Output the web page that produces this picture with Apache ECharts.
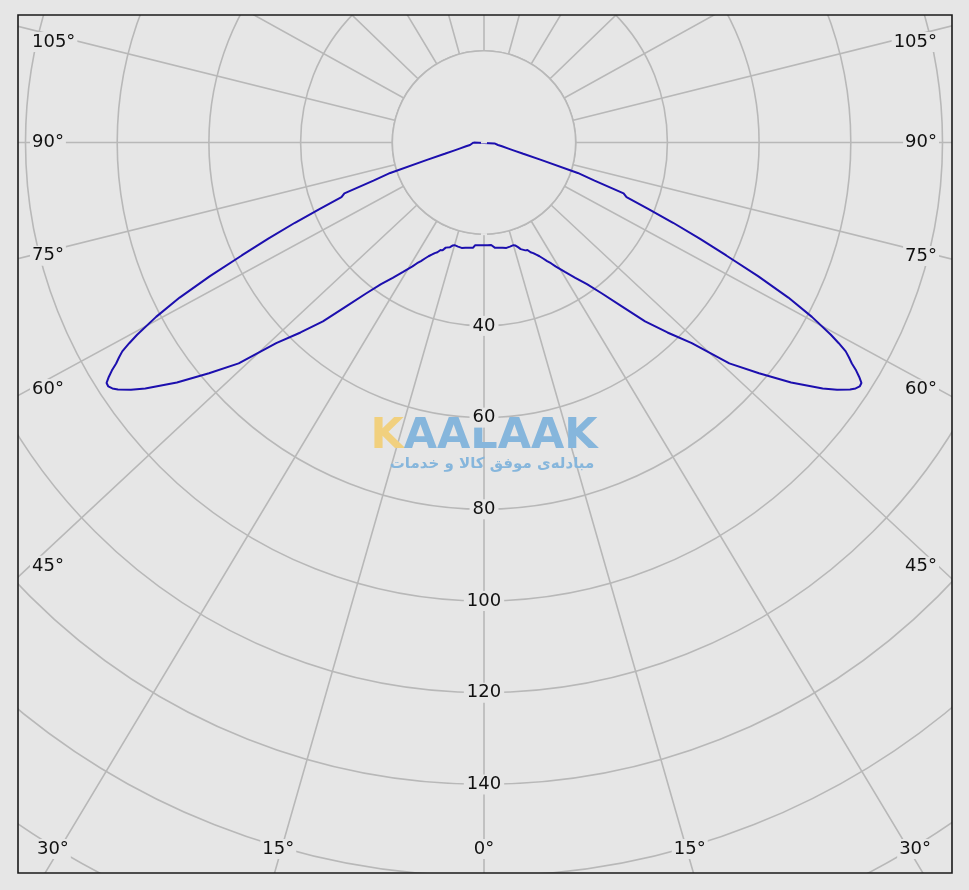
<!DOCTYPE html>
<html><head><meta charset="utf-8">
<script src="https://cdn.jsdelivr.net/npm/echarts@6/dist/echarts.min.js"></script>
<style>html,body{margin:0;padding:0;background:#e6e6e6;}#c{width:969px;height:890px;}</style>
</head><body><div id="c"></div>
<script>
// Gamma angles (deg from nadir) and luminous intensity (cd/klm), symmetric curve
const gammaAngles = [0,2,4,5,6,8,10,12,14,15,
  16,17,18,19,20,21,22,23,24,25,26,27,28,29,30,
  32,34,36,38,40,42,44,46,48,50,52,54,
  55,56,56.5,57,57.5,58,58.5,59,59.5,60,60.5,61,62,63,64,65,66,67,68,69,70,71,72,73,74,75,76,
  78,80,85,90];
const intensity = [22.4,22.4,22.4,22.5,23.1,23.2,23.3,23.5,23.4,23.3,
  23.3,23.5,24.0,24.6,24.4,25.2,25.3,26.0,26.4,27.0,27.6,28.4,29.3,30.1,31.2,
  33.3,35.6,38.2,41.8,46.5,52.5,57.6,63.0,72.0,78.3,85.0,91.3,
  94.0,96.3,97.2,97.7,97.6,96.5,95.2,93.6,92.4,91.1,88.9,86.5,81.0,74.5,66.5,58.3,51.5,44.8,38.5,33.3,32.4,25.5,21.5,13.0,8.9,6.8,5.5,
  4.0,3.1,2.3,2.3];
// radial grid lines as they sit in the picture (deg from nadir), with their printed labels
const gridAngles = [0,16,31,47,61.5,76,90,104,119,134,149,164.5,180];
const angleTickLabels = ['0°','15°','30°','45°','60°','75°','90°','105°'];
const radiusTickLabels = [40,60,80,100,120,140];

const BG = '#e6e6e6', GRID = '#b8b8b8', TXT = '#111111', CURVE = '#1c0fae';
const FONT = 'DejaVu Sans';

const curve = [];
for (let i = gammaAngles.length - 1; i >= 0; i--) curve.push([intensity[i], gammaAngles[i]]);
for (let i = 0; i < gammaAngles.length; i++) curve.push([intensity[i], 360 - gammaAngles[i]]);
curve.push([intensity[gammaAngles.length - 1], gammaAngles[gammaAngles.length - 1]]);

const gridTicks = gridAngles.slice();
gridAngles.forEach(a => { if (a > 0 && a < 180) gridTicks.push(360 - a); });
gridTicks.sort((a, b) => a - b);

const chart = echarts.init(document.getElementById('c'), null, {renderer: 'canvas'});
const polarCommon = {center: [484, 142.5], radius: 917};
const option = {
  backgroundColor: BG,
  animation: false,
  polar: [Object.assign({}, polarCommon), Object.assign({}, polarCommon)],
  angleAxis: [
    {polarIndex: 0, type: 'value', min: 0, max: 360, interval: 15, startAngle: -90, clockwise: true, z: 0,
     axisLine: {show: false}, axisTick: {show: false, customValues: gridTicks}, axisLabel: {show: false},
     splitLine: {show: true, lineStyle: {color: GRID, width: 1.6}}},
    {polarIndex: 1, type: 'value', min: 0, max: 360, interval: 15, startAngle: -90, clockwise: true, show: false}
  ],
  radiusAxis: [
    {polarIndex: 0, type: 'value', min: 0, max: 200, interval: 20, z: 0,
     axisLine: {show: false}, axisTick: {show: false}, axisLabel: {show: false},
     splitLine: {show: true, lineStyle: {color: GRID, width: 1.6}}},
    {polarIndex: 1, type: 'value', min: 0, max: 200, interval: 20, z: 6,
     axisLine: {show: false}, axisTick: {show: false}, splitLine: {show: false},
     axisLabel: {show: true, margin: 0, align: 'center', verticalAlign: 'middle',
       color: TXT, fontFamily: FONT, fontSize: 18, backgroundColor: BG, padding: [2, 3, 0, 3],
       formatter: v => radiusTickLabels.indexOf(v) >= 0 ? String(v) : ''}}
  ],
  series: [{
    type: 'line', coordinateSystem: 'polar', polarIndex: 0, data: curve, clip: false,
    showSymbol: false, symbol: 'none', smooth: false, z: 4,
    lineStyle: {color: CURVE, width: 2}
  }]
};
chart.setOption(option);

const c0 = chart.convertToPixel({polarIndex: 0}, [0, 0]) || [484, 142.5];
const p20 = chart.convertToPixel({polarIndex: 0}, [20, 0]) || [484, 142.5 + 91.7];
const r20 = Math.hypot(p20[0] - c0[0], p20[1] - c0[1]);

const FRAME = {x: 18, y: 15, w: 934, h: 858};
const elements = [];
// inner clear disk (radial lines start at the 20 ring)
elements.push({type: 'circle', z: 1, shape: {cx: c0[0], cy: c0[1], r: r20},
  style: {fill: BG, stroke: GRID, lineWidth: 1.6}});
// watermark
elements.push({type: 'text', z: 2, x: c0[0], y: 437, style: {
  text: '{y|K}{b|AALAAK}', align: 'center', verticalAlign: 'middle',
  rich: {y: {fill: '#f1d07e', fontFamily: FONT, fontWeight: 'bold', fontSize: 43},
         b: {fill: '#86b6dc', fontFamily: FONT, fontWeight: 'bold', fontSize: 43}}}});
elements.push({type: 'text', z: 2, x: c0[0] + 8, y: 464, style: {
  text: 'مبادله‌ی موفق کالا و خدمات', align: 'center', verticalAlign: 'middle',
  fill: '#86b6dc', fontFamily: FONT, fontSize: 15, fontWeight: 'bold'}});
// masks outside the frame
elements.push({type: 'rect', z: 10, shape: {x: 0, y: 0, width: 969, height: FRAME.y}, style: {fill: BG}});
elements.push({type: 'rect', z: 10, shape: {x: 0, y: FRAME.y + FRAME.h, width: 969, height: 890}, style: {fill: BG}});
elements.push({type: 'rect', z: 10, shape: {x: 0, y: 0, width: FRAME.x, height: 890}, style: {fill: BG}});
elements.push({type: 'rect', z: 10, shape: {x: FRAME.x + FRAME.w, y: 0, width: 969, height: 890}, style: {fill: BG}});
elements.push({type: 'rect', z: 11, shape: {x: FRAME.x, y: FRAME.y, width: FRAME.w, height: FRAME.h},
  style: {fill: null, stroke: '#1a1a1a', lineWidth: 1.6}});

// angle labels where the radial lines meet the label band inside the frame
const LX = 30, RX = 939, BYHIT = 860, BY = 849, TOPMIN = 42;
angleTickLabels.forEach((lab, k) => {
  const a = gridAngles[k];
  const sides = a === 0 ? [0] : [a, 360 - a];
  sides.forEach(ang => {
    const p = chart.convertToPixel({polarIndex: 0}, [200, ang]);
    const dx = p[0] - c0[0], dy = p[1] - c0[1];
    let tx = Infinity, ty = Infinity;
    if (Math.abs(dx) > 1e-6) tx = ((dx < 0 ? LX : RX) - c0[0]) / dx;
    if (dy > 1e-6) ty = (BYHIT - c0[1]) / dy;
    let x, y, align;
    if (tx <= ty) {
      y = Math.max(TOPMIN, c0[1] + tx * dy);
      if (dx < 0) { x = LX; align = 'left'; } else { x = RX; align = 'right'; }
    } else {
      x = c0[0] + ty * dx; y = BY; align = 'center';
    }
    elements.push({type: 'text', z: 7, x: x, y: y, style: {
      text: lab, align: align, verticalAlign: 'middle', fill: TXT,
      fontFamily: FONT, fontSize: 18, backgroundColor: BG, padding: [2, 2, 0, 2]}});
  });
});
chart.setOption({graphic: {elements: elements}});
</script></body></html>
